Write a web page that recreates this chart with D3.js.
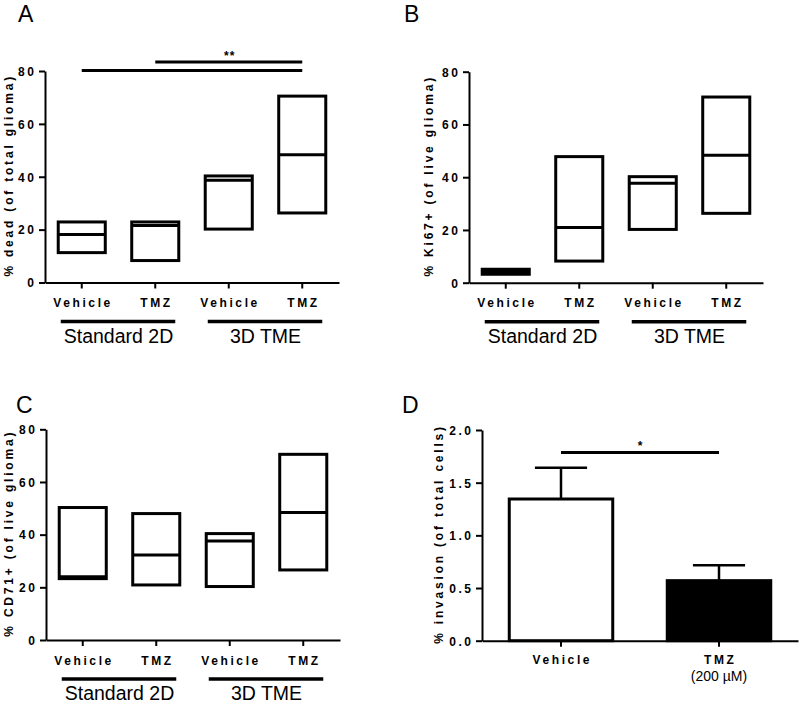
<!DOCTYPE html>
<html>
<head>
<meta charset="utf-8">
<script src="https://cdn.jsdelivr.net/npm/d3@7"></script>
<style>
  html, body { margin: 0; padding: 0; background: #fff; }
  svg { display: block; }
  text { font-family: "Liberation Sans", Arial, sans-serif; fill: #000; }
</style>
</head>
<body>
<svg id="chart" width="800" height="705"></svg>
<script>
// ---------------- data ----------------
const categories = ["Vehicle", "TMZ", "Vehicle", "TMZ"];
const groupLabels = ["Standard 2D", "3D TME"];
const yTicks80 = [0, 20, 40, 60, 80];

// Panel A: % dead (of total glioma) — floating bars (min, max, line at mean)
const deadMin  = [11.3, 8.3, 20.2, 26.3];
const deadMax  = [22.9, 22.9, 40.3, 70.5];
const deadMean = [18.2, 21.6, 38.7, 48.3];

// Panel B: % Ki67+ (of live glioma)
const ki67Min  = [3.2, 8.2, 20.2, 26.3];
const ki67Max  = [5.1, 47.8, 40.2, 70.4];
const ki67Mean = [4.0, 20.9, 37.7, 48.3];

// Panel C: % CD71+ (of live glioma)
const cd71Min  = [23.3, 20.9, 20.3, 26.6];
const cd71Max  = [50.3, 48.0, 40.4, 70.5];
const cd71Mean = [24.0, 32.3, 37.6, 48.4];

// Panel D: % invasion (of total cells)
const invCategories = ["Vehicle", "TMZ"];
const invSubLabels = ["", "(200 µM)"];
const invMean = [1.345, 0.57];
const invSem  = [0.297, 0.146];
const invTicks = [0, 0.5, 1.0, 1.5, 2.0];

// ---------------- drawing ----------------
const svg = d3.select("#chart");
const BOLD_LS = 2.6;

function styleAxis(g) {
  g.attr("font-size", null).attr("font-family", null);
  g.selectAll(".domain").attr("stroke", "#000").attr("stroke-width", 2);
  g.selectAll(".tick line").attr("stroke", "#000").attr("stroke-width", 2);
  g.selectAll(".tick text")
    .style("font-family", "'Liberation Sans', Arial, sans-serif")
    .style("font-weight", "bold")
    .style("font-size", "12px")
    .style("letter-spacing", BOLD_LS + "px")
    .attr("fill", "#000");
}

function yTitle(x, yc, txt) {
  svg.append("text")
    .attr("transform", `translate(${x},${yc}) rotate(-90)`)
    .attr("text-anchor", "middle")
    .attr("dx", 1.4)
    .style("font-weight", "bold")
    .style("font-size", "12px")
    .style("letter-spacing", "2.8px")
    .text(txt);
}

function panelLetter(x, y, t) {
  svg.append("text").attr("x", x).attr("y", y)
    .style("font-size", "23px").text(t);
}

function floatPanel(o) {
  const x = d3.scaleBand().domain(d3.range(categories.length)).range([o.x0, o.x1]).padding(0);
  const y = d3.scaleLinear().domain([0, 80]).range([o.yBot, o.yTop]);
  const g = svg.append("g");

  // axes
  const ya = g.append("g").attr("transform", `translate(${o.x0},0)`)
    .call(d3.axisLeft(y).tickValues(yTicks80).tickSize(6).tickSizeOuter(0).tickPadding(5));
  styleAxis(ya);
  ya.selectAll(".tick text").attr("dx", BOLD_LS).attr("dy", "0.36em");

  const xa = g.append("g").attr("transform", `translate(0,${o.yBot})`)
    .call(d3.axisBottom(x).tickFormat(i => categories[i]).tickSize(6).tickSizeOuter(0).tickPadding(10));
  styleAxis(xa);
  xa.selectAll(".tick text").attr("dx", BOLD_LS / 2).attr("dy", "0.71em");

  // floating bars
  const bw = x.bandwidth() * 0.64;
  const boxes = g.selectAll("g.box").data(d3.range(categories.length)).join("g");
  boxes.append("rect")
    .attr("x", i => x(i) + (x.bandwidth() - bw) / 2)
    .attr("y", i => y(o.max[i]))
    .attr("width", bw)
    .attr("height", i => y(o.min[i]) - y(o.max[i]))
    .attr("fill", i => (y(o.min[i]) - y(o.max[i]) < 7 ? "#000" : "#fff"))
    .attr("stroke", "#000").attr("stroke-width", 3);
  boxes.append("line")
    .attr("x1", i => x(i) + (x.bandwidth() - bw) / 2)
    .attr("x2", i => x(i) + (x.bandwidth() + bw) / 2)
    .attr("y1", i => y(o.mean[i])).attr("y2", i => y(o.mean[i]))
    .attr("stroke", "#000").attr("stroke-width", 3);

  // group lines and labels
  groupLabels.forEach((lab, gi) => {
    const c1 = x(gi * 2) + x.bandwidth() / 2;
    const c2 = x(gi * 2 + 1) + x.bandwidth() / 2;
    g.append("line").attr("x1", c1 - 21).attr("x2", c2 + 20)
      .attr("y1", o.yBot + 39).attr("y2", o.yBot + 39)
      .attr("stroke", "#000").attr("stroke-width", 3.5);
    g.append("text").attr("x", (c1 + c2) / 2).attr("y", o.yBot + 60)
      .attr("text-anchor", "middle").style("font-size", "19.5px").text(lab);
  });

  yTitle(o.titleX, (o.yTop + o.yBot) / 2, o.title);
  panelLetter(o.lx, o.ly, o.letter);

  if (o.sig) {
    o.sig.forEach(s => {
      const c1 = x(s.from) + x.bandwidth() / 2;
      const c2 = x(s.to) + x.bandwidth() / 2;
      g.append("line").attr("x1", c1).attr("x2", c2)
        .attr("y1", s.y).attr("y2", s.y)
        .attr("stroke", "#000").attr("stroke-width", 3);
      if (s.label) {
        g.append("text").attr("x", (c1 + c2) / 2 + 1).attr("y", s.y - 2)
          .attr("text-anchor", "middle").style("font-size", "12px")
          .style("font-weight", "bold").style("letter-spacing", "1px").text(s.label);
      }
    });
  }
}

// Panel A
floatPanel({
  x0: 45, x1: 339, yTop: 71, yBot: 282.5,
  min: deadMin, max: deadMax, mean: deadMean,
  title: "% dead (of total glioma)", titleX: 13,
  letter: "A", lx: 18, ly: 22,
  sig: [{ from: 0, to: 3, y: 70.5 }, { from: 1, to: 3, y: 62, label: "**" }]
});

// Panel B
floatPanel({
  x0: 469, x1: 763, yTop: 71.7, yBot: 282.7,
  min: ki67Min, max: ki67Max, mean: ki67Mean,
  title: "% Ki67+ (of live glioma)", titleX: 433,
  letter: "B", lx: 404, ly: 22
});

// Panel C
floatPanel({
  x0: 46, x1: 340, yTop: 429.3, yBot: 640,
  min: cd71Min, max: cd71Max, mean: cd71Mean,
  title: "% CD71+ (of live glioma)", titleX: 13,
  letter: "C", lx: 16, ly: 413
});

// Panel D: bar chart with SEM
(function () {
  const x0 = 482, x1 = 798, yTop = 430, yBot = 640.7;
  const x = d3.scaleBand().domain(d3.range(invCategories.length)).range([x0, x1]).padding(0);
  const y = d3.scaleLinear().domain([0, 2]).range([yBot, yTop]);
  const g = svg.append("g");
  const barFill = ["#fff", "#000"];

  const ya = g.append("g").attr("transform", `translate(${x0},0)`)
    .call(d3.axisLeft(y).tickValues(invTicks).tickFormat(d3.format(".1f"))
      .tickSize(6).tickSizeOuter(0).tickPadding(5));
  styleAxis(ya);
  ya.selectAll(".tick text").attr("dx", BOLD_LS).attr("dy", "0.36em");

  const xa = g.append("g").attr("transform", `translate(0,${yBot})`)
    .call(d3.axisBottom(x).tickFormat(i => invCategories[i]).tickSize(6).tickSizeOuter(0).tickPadding(9));
  styleAxis(xa);
  xa.selectAll(".tick text").attr("dx", BOLD_LS / 2).attr("dy", "0.71em");
  xa.selectAll(".tick").append("text")
    .attr("y", 40).attr("text-anchor", "middle")
    .style("font-size", "14px").attr("fill", "#000")
    .text(i => invSubLabels[i]);

  const bw = x.bandwidth() * 0.655;
  const cap = x.bandwidth() * 0.33;
  const cx = i => x(i) + x.bandwidth() / 2;
  const idx = d3.range(invCategories.length);

  // error bars (upper only)
  g.selectAll("line.err").data(idx).join("line")
    .attr("x1", cx).attr("x2", cx)
    .attr("y1", i => y(invMean[i])).attr("y2", i => y(invMean[i] + invSem[i]))
    .attr("stroke", "#000").attr("stroke-width", 2.5);
  g.selectAll("line.cap").data(idx).join("line")
    .attr("x1", i => cx(i) - cap / 2).attr("x2", i => cx(i) + cap / 2)
    .attr("y1", i => y(invMean[i] + invSem[i])).attr("y2", i => y(invMean[i] + invSem[i]))
    .attr("stroke", "#000").attr("stroke-width", 2.5);

  g.selectAll("rect.bar").data(idx).join("rect")
    .attr("x", i => cx(i) - bw / 2)
    .attr("y", i => y(invMean[i]))
    .attr("width", bw)
    .attr("height", i => yBot - y(invMean[i]))
    .attr("fill", i => barFill[i])
    .attr("stroke", "#000").attr("stroke-width", 3);

  // significance
  const sy = y(1.787);
  g.append("line").attr("x1", cx(0)).attr("x2", cx(1)).attr("y1", sy).attr("y2", sy)
    .attr("stroke", "#000").attr("stroke-width", 3);
  g.append("text").attr("x", (cx(0) + cx(1)) / 2).attr("y", sy - 2)
    .attr("text-anchor", "middle").style("font-size", "12px").style("font-weight", "bold").text("*");

  yTitle(443, (yTop + yBot) / 2, "% invasion (of total cells)");
  panelLetter(402, 413, "D");
})();
</script>
</body>
</html>
